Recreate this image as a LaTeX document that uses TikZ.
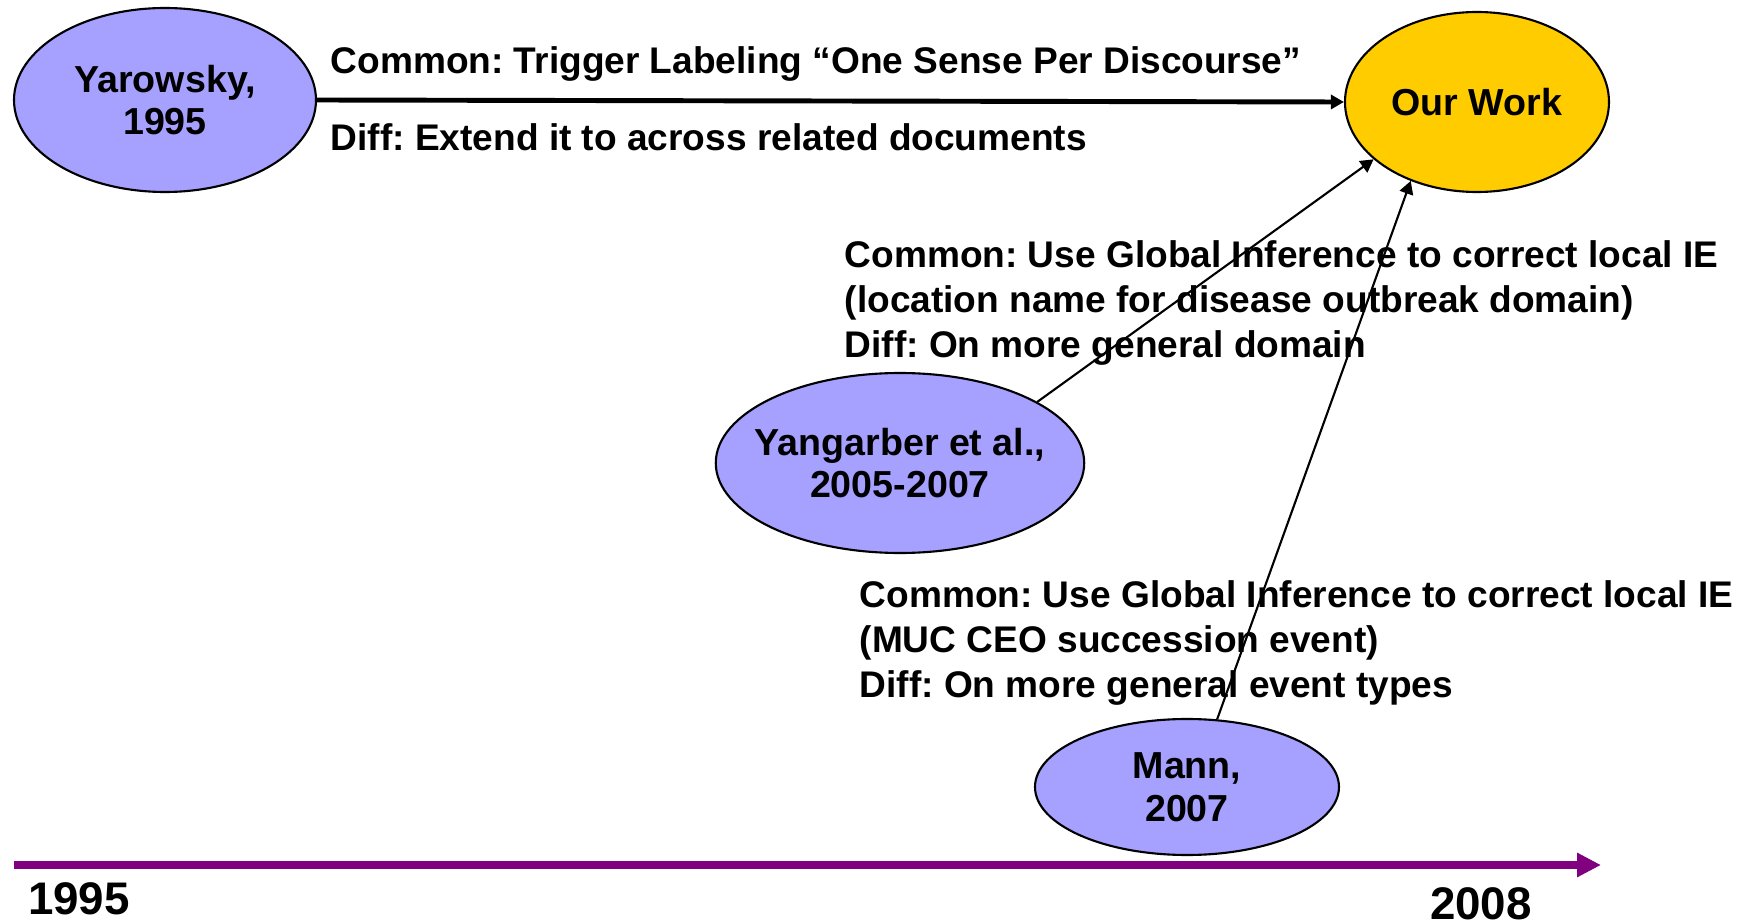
\documentclass[tikz,border=0pt]{standalone}
\usepackage{fontspec}
\setmainfont{Liberation Sans}
\usetikzlibrary{arrows.meta, shapes.geometric}
\definecolor{paper}{RGB}{166,160,255}
\definecolor{ours}{RGB}{255,204,0}
\definecolor{timeline}{RGB}{128,0,128}
\tikzset{
  work/.style={ellipse, draw, line width=0.6pt, fill=paper, align=center,
    inner sep=0pt, font=\bfseries\fontsize{10.7}{12.2}\selectfont},
  note/.style={anchor=west, align=left, inner sep=0pt,
    font=\bfseries\fontsize{10.55}{12.8}\selectfont},
  year/.style={inner sep=0pt, font=\bfseries\fontsize{13}{15}\selectfont},
  link/.style={-{Triangle[length=1.3mm, width=1.4mm]}, line width=0.6pt},
}
\frenchspacing

\begin{document}
\begin{tikzpicture}
\useasboundingbox (0,0) rectangle (17.57,-9.24);
% papers
\node[work, minimum width=3.02cm, minimum height=1.84cm] (yarowsky) at (1.65,-1.00) {Yarowsky,\\1995};
\node[work, fill=ours, minimum width=2.64cm, minimum height=1.80cm] (ourwork) at (14.77,-1.02) {Our Work};
\node[work, inner xsep=-1.5mm, minimum width=3.66cm, minimum height=1.80cm] (yangarber) at (9.00,-4.63) {Yangarber et al.,\\2005-2007};
\node[work, minimum width=3.04cm, minimum height=1.36cm] (mann) at (11.87,-7.87) {Mann,\\2007};

% comparisons
\node[note] (yarcommon) at (3.30,-0.64) {Common: Trigger Labeling “One Sense Per Discourse”};
\node[note] (yardiff) at (3.30,-1.37) {Diff: Extend it to across related documents};
\node[note] (yangnote) at (8.44,-3.03) {Common: Use Global Inference to correct local IE\\(location name for disease outbreak domain)\\Diff: On more general domain};
\node[note] (mannnote) at (8.59,-6.43) {Common: Use Global Inference to correct local IE\\(MUC CEO succession event)\\Diff: On more general event types};

\draw[link, line width=1.4pt] (yarowsky.east) -- (ourwork.west);
\draw[link] (yangarber.24) -- (ourwork.209);
\draw[link] (mann.66) -- (ourwork.230);

% timeline
\coordinate (start) at (0.14,-8.65);
\coordinate (stop) at (16.01,-8.65);
\draw[timeline, line width=2pt, -{Triangle[length=2.4mm, width=2.3mm]}] (start) -- (stop);
\node[year] (from) at (0.79,-8.99) {1995};
\node[year] (to) at (14.81,-9.04) {2008};
\end{tikzpicture}
\end{document}
